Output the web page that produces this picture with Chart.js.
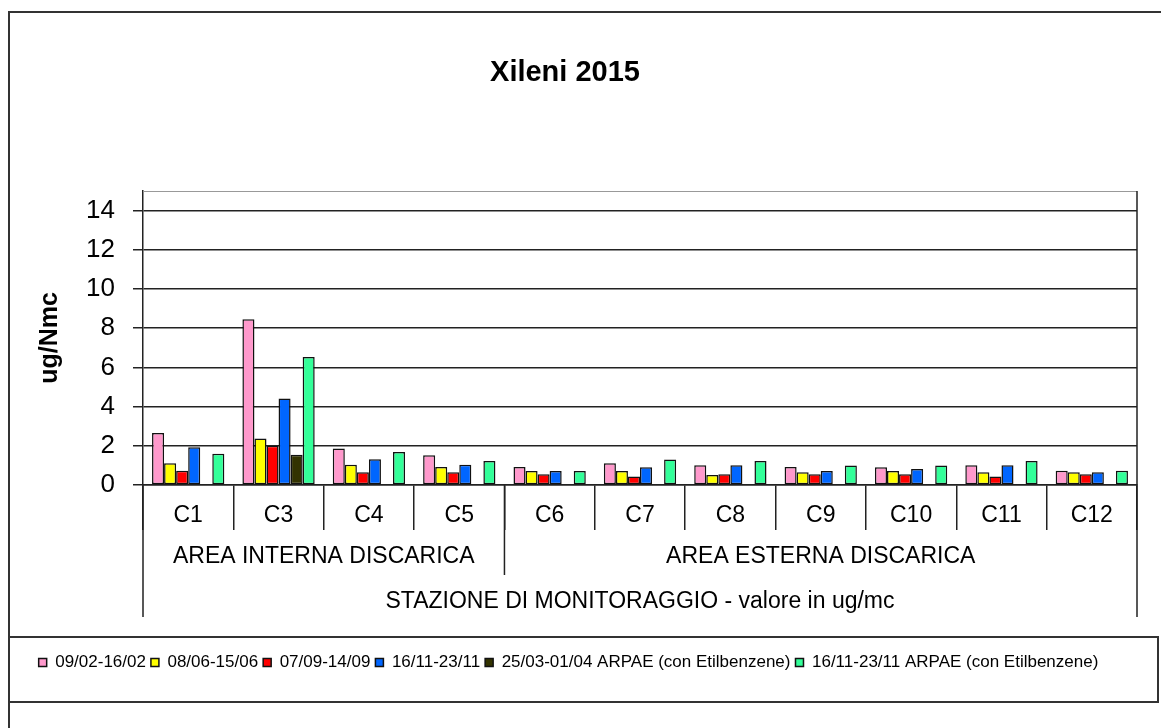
<!DOCTYPE html>
<html>
<head>
<meta charset="utf-8">
<title>Xileni 2015</title>
<script src="https://cdn.jsdelivr.net/npm/chart.js@4.4.1/dist/chart.umd.min.js"></script>
<style>
  html, body { margin: 0; padding: 0; background: #fff; }
  #wrap { position: relative; width: 1161px; height: 728px; }
</style>
</head>
<body>
<div id="wrap"><canvas id="xileniChart"></canvas></div>
<script>
var stations = ["C1", "C3", "C4", "C5", "C6", "C7", "C8", "C9", "C10", "C11", "C12"];
var areas = ["AREA INTERNA DISCARICA", "AREA ESTERNA DISCARICA"];
var areaSizes = [4, 7];
var yTicks = [0, 2, 4, 6, 8, 10, 12, 14];

var periods = [
    "09/02-16/02",
    "08/06-15/06",
    "07/09-14/09",
    "16/11-23/11",
    "25/03-01/04 ARPAE (con Etilbenzene)",
    "16/11-23/11 ARPAE (con Etilbenzene)"
];
var feb = [2.65, 8.46, 1.86, 1.52, 0.92, 1.11, 1.01, 0.92, 0.91, 1.01, 0.73];
var jun = [1.11, 2.37, 1.03, 0.92, 0.72, 0.72, 0.51, 0.65, 0.72, 0.65, 0.65];
var sep = [0.73, 2.00, 0.65, 0.65, 0.55, 0.43, 0.55, 0.55, 0.55, 0.43, 0.55];
var nov = [1.93, 4.41, 1.32, 1.03, 0.72, 0.91, 1.01, 0.72, 0.82, 1.01, 0.65];
var arpaeMar = [null, 1.54, null, null, null, null, null, null, null, 0.05, 0.05];
var arpaeNov = [1.60, 6.53, 1.69, 1.22, 0.72, 1.30, 1.22, 0.99, 0.99, 1.22, 0.73];
var colors = ['#FF99CC', '#FFFF00', '#FF0000', '#0066FF', '#333300', '#33FF99'];

var FONT = '"Liberation Sans", Arial, sans-serif';

var series = [feb, jun, sep, nov, arpaeMar, arpaeNov];
var datasets = series.map(function (vals, i) {
    return {
        label: periods[i],
        data: vals,
        backgroundColor: colors[i],
        borderColor: '#111',
        borderWidth: 1.5,
        borderSkipped: false,
        categoryPercentage: 0.8,
        barPercentage: 1.0
    };
});

// frames, title, area labels
var decorations = {
    id: 'decorations',
    afterDraw: function (chart) {
        var ctx = chart.ctx;
        var a = chart.chartArea;
        var x = chart.scales.x;
        var w = x.getPixelForValue(1) - x.getPixelForValue(0);
        ctx.save();

        ctx.strokeStyle = '#333';
        ctx.lineWidth = 2;
        ctx.beginPath();
        ctx.moveTo(9, 740);
        ctx.lineTo(9, 12);
        ctx.lineTo(1175, 12);
        ctx.stroke();
        ctx.strokeRect(9, 637, 1149, 65);

        ctx.strokeStyle = '#999';
        ctx.lineWidth = 1;
        ctx.beginPath();
        ctx.moveTo(a.left, a.top + 0.5);
        ctx.lineTo(a.right, a.top + 0.5);
        ctx.stroke();

        ctx.strokeStyle = '#222';
        ctx.lineWidth = 1.5;
        ctx.beginPath();
        ctx.moveTo(a.left, a.bottom);
        ctx.lineTo(a.left, 617);
        ctx.moveTo(a.right, a.top);
        ctx.lineTo(a.right, 617);
        var start = 0;
        for (var g = 0; g < areas.length - 1; g++) {
            start += areaSizes[g];
            var bx = x.getPixelForValue(start) - w / 2;
            ctx.moveTo(bx, a.bottom);
            ctx.lineTo(bx, 575);
        }
        ctx.stroke();

        ctx.fillStyle = '#000';
        ctx.textAlign = 'center';
        ctx.textBaseline = 'middle';
        ctx.font = '23px ' + FONT;
        start = 0;
        areas.forEach(function (name, g) {
            var l = x.getPixelForValue(start) - w / 2;
            var r = x.getPixelForValue(start + areaSizes[g] - 1) + w / 2;
            ctx.fillText(name, (l + r) / 2, 557);
            start += areaSizes[g];
        });

        ctx.font = 'bold 29px ' + FONT;
        ctx.fillText('Xileni 2015', 565, 73);
        ctx.restore();
    }
};

var xileniChart = new Chart(document.getElementById('xileniChart'), {
    type: 'bar',
    data: {
        labels: stations,
        datasets: datasets
    },
    plugins: [decorations],
    options: {
        responsive: true,
        maintainAspectRatio: false,
        animation: false,
        layout: {
            padding: { top: 191, right: 24, bottom: 47, left: 0 }
        },
        plugins: {
            title: { display: false },
            tooltip: { enabled: false },
            legend: {
                position: 'bottom',
                labels: {
                    color: '#000',
                    font: { family: FONT, size: 17 },
                    boxWidth: 8,
                    boxHeight: 8,
                    padding: 5
                }
            }
        },
        scales: {
            x: {
                grid: {
                    offset: true,
                    drawOnChartArea: false,
                    drawTicks: true,
                    tickLength: 45,
                    color: '#222',
                    lineWidth: 1.5
                },
                border: { display: true, color: '#222', width: 1.5 },
                ticks: {
                    color: '#000',
                    font: { family: FONT, size: 23 },
                    padding: -28,
                    maxRotation: 0,
                    autoSkip: false
                },
                title: {
                    display: true,
                    text: 'STAZIONE DI MONITORAGGIO - valore in ug/mc',
                    color: '#000',
                    font: { family: FONT, size: 23 },
                    padding: { top: 0, bottom: 34 }
                },
                afterFit: function (scale) { scale.height = 164; }
            },
            y: {
                min: 0,
                max: 15,
                grid: {
                    color: '#222',
                    lineWidth: 1.5,
                    tickLength: 10
                },
                border: { display: true, color: '#222', width: 1.5 },
                ticks: {
                    stepSize: 2,
                    color: '#000',
                    font: { family: FONT, size: 26 },
                    padding: 18
                },
                afterBuildTicks: function (scale) {
                    scale.ticks = yTicks.map(function (v) { return { value: v }; });
                },
                title: {
                    display: true,
                    text: 'ug/Nmc',
                    color: '#000',
                    font: { family: FONT, size: 25, weight: 'bold' },
                    padding: { top: 35, bottom: 0 }
                },
                afterFit: function (scale) { scale.width = 143; }
            }
        }
    }
});
</script>
</body>
</html>
